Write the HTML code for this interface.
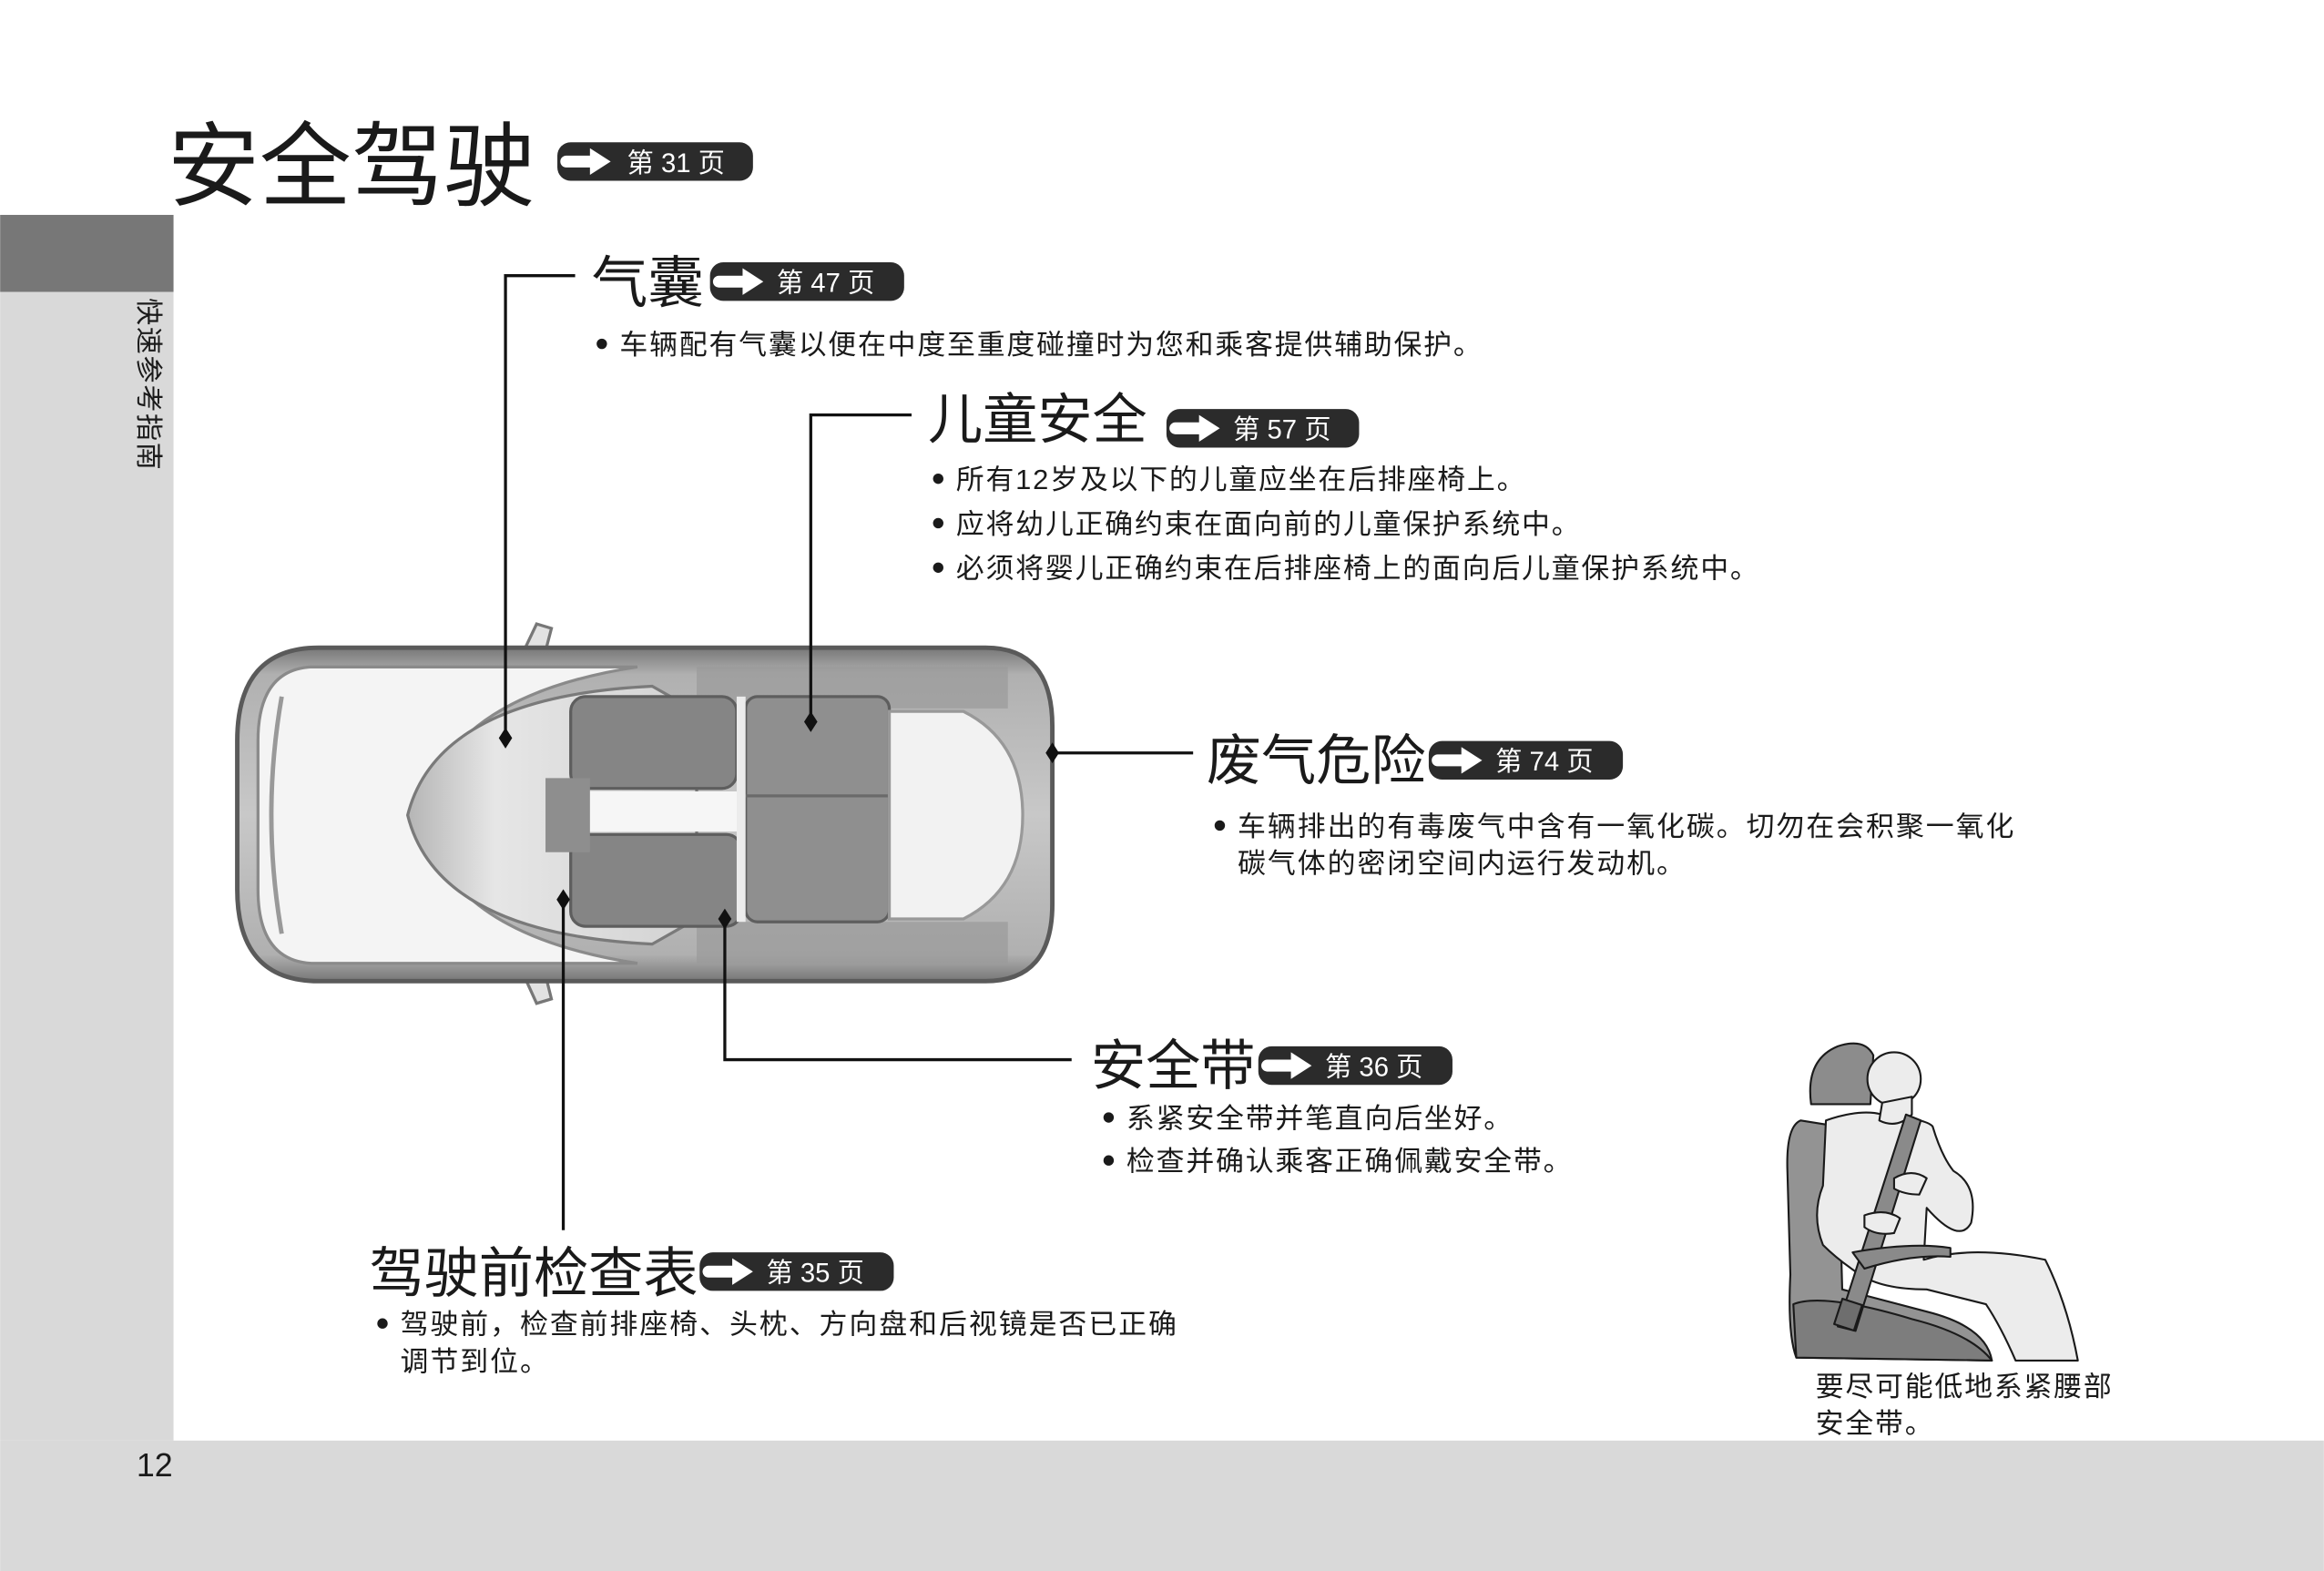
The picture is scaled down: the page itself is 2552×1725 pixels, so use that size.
<!DOCTYPE html>
<html><head><meta charset="utf-8"><style>
html,body{margin:0;padding:0;background:#fff;}
svg{display:block;}
text{font-family:"Liberation Sans","Noto Sans CJK SC",sans-serif;fill:#1a1a1a;}
</style></head><body>
<svg width="2552" height="1725" viewBox="0 0 1568 1060" xmlns="http://www.w3.org/2000/svg">
<defs>
<g id="arr"><path d="M6 9 h16 v-5 l14 9 l-14 9 v-5 h-16 a4 4 0 0 1 0-8z" fill="#fff"/></g>
<linearGradient id="bodyg" x1="0" y1="0" x2="0" y2="1"><stop offset="0" stop-color="#777"/><stop offset="0.08" stop-color="#b0b0b0"/><stop offset="0.5" stop-color="#c8c8c8"/><stop offset="0.92" stop-color="#b0b0b0"/><stop offset="1" stop-color="#777"/></linearGradient>
<linearGradient id="wsg" x1="0" y1="0" x2="1" y2="0"><stop offset="0" stop-color="#b5b5b5"/><stop offset="0.3" stop-color="#e6e6e6"/><stop offset="1" stop-color="#d2d2d2"/></linearGradient>
</defs>
<rect x="0" y="145" width="117" height="52" fill="#777"/>
<rect x="0" y="197" width="117" height="775" fill="#d9d9d9"/>
<rect x="0" y="972" width="1568" height="88" fill="#d9d9d9"/>
<text x="92" y="996" font-size="22">12</text>
<text transform="translate(94,201) rotate(90)" font-size="18.5" letter-spacing="1">快速参考指南</text>

<text x="113" y="134" font-size="62">安全驾驶</text>
<g transform="translate(376,96)"><rect width="132" height="26" rx="9" fill="#2b2b2b"/><use href="#arr"/><text x="47" y="20" font-size="18" style="fill:#fff">第 31 页</text></g>

<!-- car -->
<g>
<path d="M352 442 L362 421 L372 424 L366 447 Z" fill="#e2e2e2" stroke="#777" stroke-width="2"/>
<path d="M352 655 L362 677 L372 674 L366 650 Z" fill="#e2e2e2" stroke="#777" stroke-width="2"/>
<path d="M215 437 H665 Q710 437 710 490 V610 Q710 662 665 662 H215 Q160 662 160 600 V500 Q160 437 215 437 Z" fill="url(#bodyg)" stroke="#5a5a5a" stroke-width="3"/>
<path d="M210 450 H430 Q300 470 285 550 Q300 630 430 650 H210 Q174 648 174 600 V500 Q174 452 210 450Z" fill="#f4f4f4" stroke="#8a8a8a" stroke-width="2"/>
<path d="M190 470 Q176 550 190 630" stroke="#999" stroke-width="3" fill="none"/>
<path d="M440 463 Q295 470 275 550 Q295 630 440 637 L470 620 V480 Z" fill="url(#wsg)" stroke="#7a7a7a" stroke-width="2"/>
<path d="M470 450 H680 V478 H470Z M470 622 H680 V650 H470Z" fill="#9a9a9a" opacity="0.7"/>
<rect x="385" y="470" width="112" height="62" rx="10" fill="#858585" stroke="#5e5e5e" stroke-width="2"/>
<rect x="385" y="563" width="115" height="62" rx="10" fill="#858585" stroke="#5e5e5e" stroke-width="2"/>
<rect x="395" y="534" width="110" height="27" fill="#f6f6f6"/>
<rect x="368" y="525" width="30" height="50" fill="#8e8e8e"/>
<rect x="503" y="470" width="97" height="152" rx="8" fill="#8f8f8f" stroke="#5e5e5e" stroke-width="2"/>
<line x1="503" y1="537" x2="600" y2="537" stroke="#6a6a6a" stroke-width="2"/>
<rect x="497" y="470" width="6" height="152" fill="#ececec"/>
<path d="M600 480 H650 Q690 500 690 550 Q690 600 650 620 H600 Z" fill="#f2f2f2" stroke="#999" stroke-width="2"/>
</g>

<!-- connectors -->
<g stroke="#111" stroke-width="2" fill="none">
<path d="M388 186 H341 V498"/>
<path d="M615 280 H547 V487"/>
<path d="M710 508 H805"/>
<path d="M723 715 H489 V620"/>
<path d="M380 607 V830"/>
</g>
<g fill="#111">
<path d="M341 491 l4.5 7 l-4.5 7 l-4.5 -7z"/>
<path d="M547 480 l4.5 7 l-4.5 7 l-4.5 -7z"/>
<path d="M710 501 l4.5 7 l-4.5 7 l-4.5 -7z"/>
<path d="M489 613 l4.5 7 l-4.5 7 l-4.5 -7z"/>
<path d="M380 600 l4.5 7 l-4.5 7 l-4.5 -7z"/>
</g>

<text x="399" y="204" font-size="38">气囊</text>
<g transform="translate(479,177)"><rect width="131" height="26" rx="9" fill="#2b2b2b"/><use href="#arr"/><text x="45" y="20" font-size="18" style="fill:#fff">第 47 页</text></g>
<circle cx="406" cy="232" r="3.5" fill="#1a1a1a"/>
<text x="418" y="239" font-size="19" letter-spacing="1.1">车辆配有气囊以便在中度至重度碰撞时为您和乘客提供辅助保护。</text>

<text x="626" y="296" font-size="37">儿童安全</text>
<g transform="translate(787,276)"><rect width="130" height="26" rx="9" fill="#2b2b2b"/><use href="#arr"/><text x="45" y="20" font-size="18" style="fill:#fff">第 57 页</text></g>
<g font-size="19" letter-spacing="1.1">
<circle cx="633" cy="323" r="3.5" fill="#1a1a1a"/><text x="645" y="330">所有12岁及以下的儿童应坐在后排座椅上。</text>
<circle cx="633" cy="353" r="3.5" fill="#1a1a1a"/><text x="645" y="360">应将幼儿正确约束在面向前的儿童保护系统中。</text>
<circle cx="633" cy="383" r="3.5" fill="#1a1a1a"/><text x="645" y="390">必须将婴儿正确约束在后排座椅上的面向后儿童保护系统中。</text>
</g>

<text x="814" y="526" font-size="37">废气危险</text>
<g transform="translate(964,500)"><rect width="131" height="26" rx="9" fill="#2b2b2b"/><use href="#arr"/><text x="45" y="20" font-size="18" style="fill:#fff">第 74 页</text></g>
<g font-size="19" letter-spacing="1.2">
<circle cx="823" cy="557" r="3.5" fill="#1a1a1a"/><text x="835" y="564">车辆排出的有毒废气中含有一氧化碳。切勿在会积聚一氧化</text>
<text x="835" y="589">碳气体的密闭空间内运行发动机。</text>
</g>

<text x="736" y="732" font-size="37">安全带</text>
<g transform="translate(849,706)"><rect width="131" height="26" rx="9" fill="#2b2b2b"/><use href="#arr"/><text x="45" y="20" font-size="18" style="fill:#fff">第 36 页</text></g>
<g font-size="19" letter-spacing="1.1">
<circle cx="748" cy="754" r="3.5" fill="#1a1a1a"/><text x="760" y="761">系紧安全带并笔直向后坐好。</text>
<circle cx="748" cy="783" r="3.5" fill="#1a1a1a"/><text x="760" y="790">检查并确认乘客正确佩戴安全带。</text>
</g>

<text x="249" y="872" font-size="37">驾驶前检查表</text>
<g transform="translate(472,845)"><rect width="131" height="26" rx="9" fill="#2b2b2b"/><use href="#arr"/><text x="45" y="20" font-size="18" style="fill:#fff">第 35 页</text></g>
<g font-size="19" letter-spacing="1.2">
<circle cx="258" cy="893" r="3.5" fill="#1a1a1a"/><text x="270" y="900">驾驶前，检查前排座椅、头枕、方向盘和后视镜是否已正确</text>
<text x="270" y="925">调节到位。</text>
</g>

<g stroke="#1a1a1a" stroke-width="1.3" stroke-linejoin="round">
<path d="M1222 745 Q1218 715 1240 706 Q1258 700 1264 712 L1262 745 Z" fill="#8c8c8c"/>
<path d="M1215 756 Q1205 760 1206 790 L1208 860 Q1206 900 1212 916 L1344 918 Q1340 895 1300 885 L1243 870 L1240 760 Z" fill="#939393"/>
<path d="M1212 916 L1210 880 Q1230 872 1290 890 Q1330 900 1344 918 Z" fill="#7d7d7d"/>
<path d="M1232 756 Q1255 748 1270 752 Q1300 755 1304 760 Q1310 780 1318 790 Q1335 800 1330 825 Q1322 840 1300 815 L1298 850 Q1330 840 1380 850 Q1395 880 1402 918 L1360 918 Q1350 895 1340 880 L1300 870 Q1270 870 1255 860 Q1240 850 1230 840 Q1222 820 1230 800 Z" fill="#ececec"/>
<circle cx="1278" cy="728" r="18" fill="#ececec"/>
<path d="M1270 744 L1268 756 Q1280 762 1290 752 L1290 740Z" fill="#ececec"/>
<path d="M1286 752 L1296 756 L1252 898 L1240 895 Z" fill="#8a8a8a"/>
<path d="M1250 845 Q1290 838 1316 842 L1316 848 Q1290 846 1258 856 Z" fill="#8a8a8a"/>
<path d="M1278 795 Q1290 788 1300 795 L1295 806 Q1285 806 1278 802Z" fill="#ececec"/>
<path d="M1258 820 Q1272 815 1282 822 L1278 832 Q1266 834 1258 828Z" fill="#ececec"/>
<rect x="1240" y="878" width="14" height="18" fill="#6e6e6e" transform="rotate(18 1247 887)"/>
</g>
<g font-size="19" letter-spacing="1.1">
<text x="1225" y="942">要尽可能低地系紧腰部</text>
<text x="1225" y="967">安全带。</text>
</g>
</svg>
</body></html>
